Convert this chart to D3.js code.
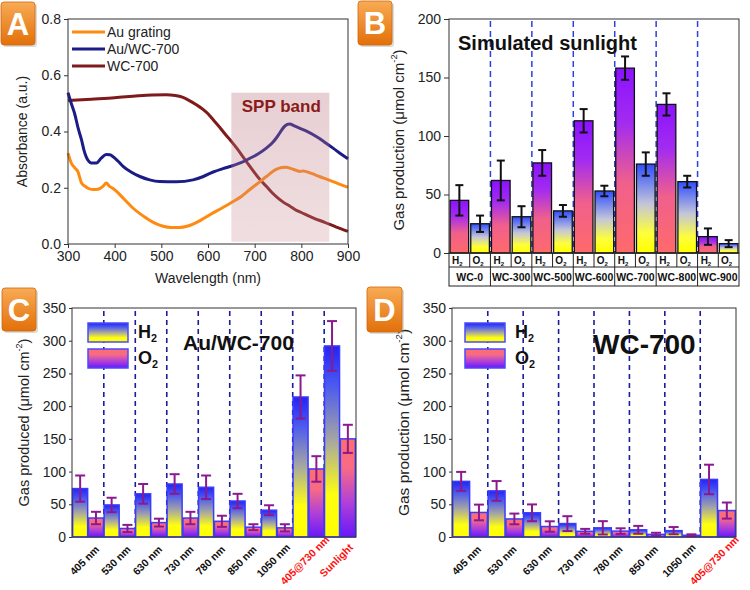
<!DOCTYPE html>
<html><head><meta charset="utf-8">
<script src="https://cdn.jsdelivr.net/npm/d3@7"></script>
<style>
body{margin:0;background:#fff;}
svg{display:block;}
</style></head><body>
<svg id="chart" width="750" height="590"></svg>
<script>
// ---------------- DATA ----------------
const wavelengthTicks = [300, 400, 500, 600, 700, 800, 900];
const absorbanceTicks = [0, 0.2, 0.4, 0.6, 0.8];
const spectraNames = ["Au grating", "Au/WC-700", "WC-700"];
const auGrating = [[300,0.323],[307,0.288],[315,0.27],[321,0.258],[329,0.217],[337,0.205],[346,0.196],[355,0.194],[364,0.195],[375,0.205],[382,0.217],[389,0.205],[396,0.198],[404,0.187],[420,0.16],[439,0.128],[454,0.108],[468,0.092],[485,0.075],[504,0.063],[520,0.059],[539,0.059],[555,0.063],[568,0.071],[585,0.085],[604,0.104],[630,0.128],[654,0.151],[672,0.17],[689,0.193],[707,0.216],[725,0.24],[746,0.265],[758,0.272],[768,0.273],[778,0.268],[789,0.262],[797,0.258],[804,0.26],[820,0.252],[839,0.24],[868,0.222],[900,0.201]];
const auWC700 = [[300,0.538],[307,0.5],[314,0.465],[322,0.41],[329,0.37],[334,0.335],[339,0.31],[345,0.293],[350,0.288],[361,0.288],[371,0.305],[382,0.318],[390,0.317],[396,0.311],[407,0.295],[418,0.276],[435,0.256],[454,0.24],[475,0.228],[496,0.222],[532,0.221],[568,0.228],[590,0.24],[611,0.256],[632,0.268],[654,0.279],[672,0.29],[689,0.304],[707,0.32],[725,0.341],[738,0.36],[746,0.376],[755,0.398],[764,0.418],[770,0.425],[775,0.427],[785,0.42],[796,0.412],[810,0.402],[832,0.382],[850,0.362],[868,0.341],[885,0.32],[900,0.303]];
const wc700 = [[300,0.51],[350,0.515],[400,0.52],[450,0.527],[480,0.53],[510,0.531],[530,0.528],[545,0.522],[560,0.51],[575,0.495],[590,0.478],[600,0.463],[612,0.44],[625,0.415],[637,0.39],[650,0.365],[662,0.34],[675,0.31],[687,0.282],[700,0.253],[712,0.228],[725,0.205],[737,0.183],[750,0.163],[762,0.148],[775,0.135],[787,0.122],[800,0.112],[825,0.093],[850,0.077],[875,0.06],[900,0.045]];
const sppRange = [650, 860];
const sppTop = 0.538;

const bCategories = ["WC-0","WC-300","WC-500","WC-600","WC-700","WC-800","WC-900"];
const bH2 = [45, 62, 77, 113, 158, 127, 14];
const bH2Err = [13, 17, 11, 10, 10, 9.5, 7];
const bO2 = [25, 31, 36, 53, 76, 61, 8];
const bO2Err = [7, 9, 5, 4.5, 10, 5, 3];
const bTicks = [0, 50, 100, 150, 200];

const cCategories = ["405 nm","530 nm","630 nm","730 nm","780 nm","850 nm","1050 nm","405@730 nm","Sunlight"];
const cH2 = [74, 49, 66, 81, 76, 55, 41, 214, 292];
const cH2Err = [20, 11, 15, 15, 18, 11, 7.5, 33, 38];
const cO2 = [29, 13, 22, 29, 24, 15, 14, 104, 150];
const cO2Err = [9.5, 5.5, 6, 9.5, 8.5, 4.5, 5.5, 19.5, 21.5];

const dCategories = ["405 nm","530 nm","630 nm","730 nm","780 nm","850 nm","1050 nm","405@730 nm"];
const dH2 = [85, 70.5, 37, 20.5, 14, 11, 9.7, 88];
const dH2Err = [14.5, 15, 12.8, 11.3, 10.2, 6, 5.5, 22.5];
const dO2 = [37.5, 27.6, 16, 8.7, 9, 4, 2.6, 40.4];
const dO2Err = [12, 8.2, 8, 3.7, 4.3, 2.5, 1.5, 12.3];
const gasTicks = [0, 50, 100, 150, 200, 250, 300, 350];
const redLabels = ["405@730 nm", "Sunlight"];
const seriesKeys = ["H2", "O2"];

// ---------------- DRAW ----------------
const FONT = '"Liberation Sans", Arial, Helvetica, sans-serif';
const svg = d3.select("#chart").attr("font-family", FONT);
const defs = svg.append("defs");
function grad(id, stops) {
  const g = defs.append("linearGradient").attr("id", id)
    .attr("x1", 0).attr("y1", 0).attr("x2", 0).attr("y2", 1);
  stops.forEach(([o, c, op]) => g.append("stop").attr("offset", o).attr("stop-color", c).attr("stop-opacity", op == null ? 1 : op));
}
grad("gbH2", [[0,"#8a12ff"],[0.3,"#a32cf0"],[0.62,"#f0608c"],[1,"#ff6a6a"]]);
grad("gbO2", [[0,"#2f4dff"],[0.45,"#c4c6d8"],[0.78,"#ffff3a"],[1,"#ffff00"]]);
grad("gcH2", [[0,"#2424f4"],[0.2,"#4a58f0"],[0.5,"#a8a8a0"],[0.78,"#ffff10"],[1,"#ffff00"]]);
grad("gcO2", [[0,"#ff6e6e"],[0.3,"#f66a86"],[0.65,"#b040d8"],[1,"#6818f8"]]);
grad("glabel", [[0,"#f8ab55"],[1,"#e2700a"]]);
grad("gspp", [[0,"#b8727c",0.34],[1,"#c98a93",0.28]]);

function panelLabel(x, y, w, h, letter) {
  svg.append("rect").attr("x", x + 2).attr("y", y + 2).attr("width", w).attr("height", h)
    .attr("rx", 3).attr("fill", "#999").attr("opacity", 0.35);
  svg.append("rect").attr("x", x).attr("y", y).attr("width", w).attr("height", h)
    .attr("rx", 3).attr("fill", "url(#glabel)").attr("stroke", "#d0680c").attr("stroke-width", 0.8);
  svg.append("text").attr("x", x + w / 2).attr("y", y + h / 2 + 11).attr("text-anchor", "middle")
    .attr("font-size", 31).attr("font-weight", "bold").attr("fill", "#fff").text(letter);
}
function styleAxis(g, fs) {
  g.attr("font-size", fs).attr("font-family", FONT);
  g.selectAll("text").attr("fill", "#222");
  g.selectAll("line").attr("stroke", "#333");
  g.select(".domain").remove();
}
function yTitle(x, y, size, main) {
  const t = svg.append("text").attr("transform", `translate(${x},${y}) rotate(-90)`)
    .attr("text-anchor", "middle").attr("font-size", size).attr("fill", "#222");
  t.append("tspan").text(main);
  t.append("tspan").attr("font-size", size * 0.62).attr("dy", -size * 0.45).text("-2");
  t.append("tspan").attr("dy", size * 0.45).text(")");
}
function subText(x, y, big, sub, size, anchor, fill) {
  const t = svg.append("text").attr("x", x).attr("y", y).attr("font-size", size)
    .attr("font-weight", "bold").attr("fill", fill || "#111").attr("text-anchor", anchor || "start");
  t.append("tspan").text(big);
  t.append("tspan").attr("font-size", size * 0.6).attr("dy", size * 0.22).text(sub);
  return t;
}

// ===== Panel A =====
{
  const L = 68, R = 348, T = 19, B = 244;
  const x = d3.scaleLinear().domain([300, 900]).range([L, R]);
  const y = d3.scaleLinear().domain([0, 0.8]).range([B, T]);
  const line = d3.line().x(d => x(d[0])).y(d => y(d[1])).curve(d3.curveMonotoneX);
  const colors = ["#ff8a12", "#1c1c86", "#7e1a1a"];
  const sets = [auGrating, auWC700, wc700];
  [2, 1, 0].forEach(i => {
    svg.append("path").datum(sets[i]).attr("d", line).attr("fill", "none")
      .attr("stroke", colors[i]).attr("stroke-width", 3).attr("stroke-linejoin", "round");
  });
  svg.append("rect").attr("x", x(sppRange[0])).attr("y", y(sppTop))
    .attr("width", x(sppRange[1]) - x(sppRange[0])).attr("height", y(0.008) - y(sppTop))
    .attr("fill", "url(#gspp)");
  svg.append("text").attr("x", x(757)).attr("y", 112).attr("text-anchor", "middle")
    .attr("font-size", 17).attr("font-weight", "bold").attr("fill", "#8b1a1a").text("SPP band");
  svg.append("rect").attr("x", L).attr("y", T).attr("width", R - L).attr("height", B - T)
    .attr("fill", "none").attr("stroke", "#333").attr("stroke-width", 1);
  const ga = svg.append("g").attr("transform", `translate(${L},0)`)
    .call(d3.axisLeft(y).tickValues(absorbanceTicks).tickFormat(d3.format(".1f")).tickSize(4).tickPadding(3));
  styleAxis(ga, 14);
  const gb = svg.append("g").attr("transform", `translate(0,${B})`)
    .call(d3.axisBottom(x).tickValues(wavelengthTicks).tickFormat(d3.format("d")).tickSize(4).tickPadding(3));
  styleAxis(gb, 14);
  svg.append("text").attr("x", (L + R) / 2).attr("y", 283).attr("text-anchor", "middle")
    .attr("font-size", 14).attr("fill", "#222").text("Wavelength (nm)");
  svg.append("text").attr("transform", `translate(27,${(T + B) / 2}) rotate(-90)`)
    .attr("text-anchor", "middle").attr("font-size", 14).attr("fill", "#222").text("Absorbance (a.u.)");
  spectraNames.forEach((n, i) => {
    const ly = 32 + i * 17;
    svg.append("line").attr("x1", 72).attr("x2", 105).attr("y1", ly).attr("y2", ly)
      .attr("stroke", colors[i]).attr("stroke-width", 3);
    svg.append("text").attr("x", 107).attr("y", ly + 5).attr("font-size", 14).attr("fill", "#222").text(n);
  });
  panelLabel(1, 2, 34, 43, "A");
}

// ===== Panel B =====
{
  const L = 449, R = 739, T = 19, B = 253;
  const x0 = d3.scaleBand().domain(bCategories).range([L, R]);
  const x1 = d3.scaleBand().domain(seriesKeys).range([0, x0.bandwidth()]).paddingInner(0.1).paddingOuter(0.05);
  const y = d3.scaleLinear().domain([0, 200]).range([B, T]);
  bCategories.forEach((c, i) => {
    if (i > 0) svg.append("line").attr("x1", x0(c)).attr("x2", x0(c)).attr("y1", T + 2).attr("y2", B)
      .attr("stroke", "#2f3fe0").attr("stroke-width", 1.5).attr("stroke-dasharray", "6,4");
  });
  const vals = { H2: [bH2, bH2Err, "url(#gbH2)"], O2: [bO2, bO2Err, "url(#gbO2)"] };
  bCategories.forEach((c, i) => {
    seriesKeys.forEach(k => {
      const [v, e, fill] = vals[k];
      const bx = x0(c) + x1(k), bw = x1.bandwidth();
      svg.append("rect").attr("x", bx).attr("y", y(v[i])).attr("width", bw).attr("height", y(0) - y(v[i]))
        .attr("fill", fill).attr("stroke", "#111").attr("stroke-width", 1.3);
      const cx = bx + bw / 2;
      const g = svg.append("g").attr("stroke", "#111").attr("stroke-width", 2);
      g.append("line").attr("x1", cx).attr("x2", cx).attr("y1", y(v[i] + e[i])).attr("y2", y(Math.max(0, v[i] - e[i])));
      [v[i] + e[i], v[i] - e[i]].forEach(vv => g.append("line").attr("x1", cx - 4).attr("x2", cx + 4).attr("y1", y(vv)).attr("y2", y(vv)));
    });
  });
  svg.append("rect").attr("x", L).attr("y", T).attr("width", R - L).attr("height", B - T)
    .attr("fill", "none").attr("stroke", "#333").attr("stroke-width", 1);
  const ga = svg.append("g").attr("transform", `translate(${L},0)`)
    .call(d3.axisLeft(y).tickValues(bTicks).tickSize(5).tickPadding(3));
  styleAxis(ga, 14);
  const r1 = 267, r2 = 286;
  const tg = svg.append("g").attr("stroke", "#222").attr("stroke-width", 1);
  tg.append("rect").attr("x", L).attr("y", B).attr("width", R - L).attr("height", r2 - B).attr("fill", "none");
  tg.append("line").attr("x1", L).attr("x2", R).attr("y1", r1).attr("y2", r1);
  bCategories.forEach((c, i) => {
    const gx = x0(c), bw = x0.bandwidth();
    tg.append("line").attr("x1", gx + bw / 2).attr("x2", gx + bw / 2).attr("y1", B).attr("y2", r1);
    if (i > 0) tg.append("line").attr("x1", gx).attr("x2", gx).attr("y1", B).attr("y2", r2);
    seriesKeys.forEach((k, j) => {
      subText(gx + bw / 4 + j * bw / 2 - 2, 264, k[0], k[1], 10, "middle");
    });
    svg.append("text").attr("x", gx + bw / 2).attr("y", 281).attr("text-anchor", "middle")
      .attr("font-size", 10.5).attr("font-weight", "bold").attr("fill", "#111").text(c);
  });
  svg.append("text").attr("x", 458).attr("y", 50).attr("font-size", 20).attr("font-weight", "bold")
    .attr("fill", "#111").text("Simulated sunlight");
  yTitle(404, 140, 15, "Gas production (\u03bcmol cm");
  panelLabel(358, 1, 34, 44, "B");
}

// ===== Panels C & D =====
function gasPanel(o) {
  const { L, R, T, B, cats, h2, h2e, o2, o2e } = o;
  const x0 = d3.scaleBand().domain(cats).range([L, R]).paddingOuter(0.01);
  const x1 = d3.scaleBand().domain(seriesKeys).range([0, x0.step()]).paddingInner(0.05).paddingOuter(0.02);
  const y = d3.scaleLinear().domain([0, 350]).range([B, T]);
  cats.forEach((c, i) => {
    if (i > 0) {
      const gx = x0(c);
      svg.append("line").attr("x1", gx).attr("x2", gx).attr("y1", T + 3).attr("y2", B)
        .attr("stroke", "#1c1c9a").attr("stroke-width", 1.6).attr("stroke-dasharray", "5,4");
    }
  });
  const vals = { H2: [h2, h2e, "url(#gcH2)"], O2: [o2, o2e, "url(#gcO2)"] };
  cats.forEach((c, i) => {
    seriesKeys.forEach(k => {
      const [v, e, fill] = vals[k];
      const bx = x0(c) + x1(k), bw = x1.bandwidth();
      svg.append("rect").attr("x", bx).attr("y", y(v[i])).attr("width", bw).attr("height", y(0) - y(v[i]))
        .attr("fill", fill).attr("stroke", "#3b3bff").attr("stroke-width", 1.5);
    });
  });
  cats.forEach((c, i) => {
    seriesKeys.forEach(k => {
      const [v, e] = vals[k];
      const cx = x0(c) + x1(k) + x1.bandwidth() / 2;
      const g = svg.append("g").attr("stroke", "#8b1a8e").attr("stroke-width", 2);
      g.append("line").attr("x1", cx).attr("x2", cx).attr("y1", y(v[i] + e[i])).attr("y2", y(Math.max(0, v[i] - e[i])));
      [v[i] + e[i], Math.max(0, v[i] - e[i])].forEach(vv => g.append("line").attr("x1", cx - 5).attr("x2", cx + 5).attr("y1", y(vv)).attr("y2", y(vv)));
    });
  });
  svg.append("rect").attr("x", L).attr("y", T).attr("width", R - L).attr("height", B - T)
    .attr("fill", "none").attr("stroke", "#333").attr("stroke-width", 1);
  const ga = svg.append("g").attr("transform", `translate(${L},0)`)
    .call(d3.axisLeft(y).tickValues(gasTicks).tickSize(3).tickPadding(3));
  styleAxis(ga, 14);
  cats.forEach(c => {
    const cx = x0(c) + x0.bandwidth() / 2;
    svg.append("text").attr("transform", `translate(${cx - 3},561) rotate(-45)`)
      .attr("text-anchor", "middle").attr("dominant-baseline", "middle")
      .attr("font-size", 10.5).attr("font-weight", "bold")
      .attr("fill", redLabels.includes(c) ? "#ff1010" : "#111").text(c);
  });
  [["url(#gcH2)", "H", 323], ["url(#gcO2)", "O", 349]].forEach(([f, s, yy]) => {
    svg.append("rect").attr("x", o.legX).attr("y", yy).attr("width", 40).attr("height", 19)
      .attr("fill", f).attr("stroke", "#4a4aff").attr("stroke-width", 1.5);
    subText(o.legX + 50, yy + 15, s, "2", 18, "start");
  });
  svg.append("text").attr("x", o.tx).attr("y", o.ty).attr("font-size", o.ts).attr("font-weight", "bold")
    .attr("fill", "#111").text(o.title);
  yTitle(o.ytx, (T + B) / 2, o.yts, o.ytitle);
}
gasPanel({ L: 72, R: 356, T: 308, B: 537, cats: cCategories, h2: cH2, h2e: cH2Err, o2: cO2, o2e: cO2Err,
  legX: 88, title: "Au/WC-700", tx: 183, ty: 350, ts: 21, ytx: 29, yts: 14.5, ytitle: "Gas produced (\u03bcmol cm" });
gasPanel({ L: 452, R: 736, T: 308, B: 537, cats: dCategories, h2: dH2, h2e: dH2Err, o2: dO2, o2e: dO2Err,
  legX: 465, title: "WC-700", tx: 593, ty: 354, ts: 28, ytx: 409, yts: 15.5, ytitle: "Gas production (\u03bcmol cm" });
panelLabel(2, 288, 34, 43, "C");
panelLabel(367, 287, 35, 45, "D");
</script>
</body></html>
